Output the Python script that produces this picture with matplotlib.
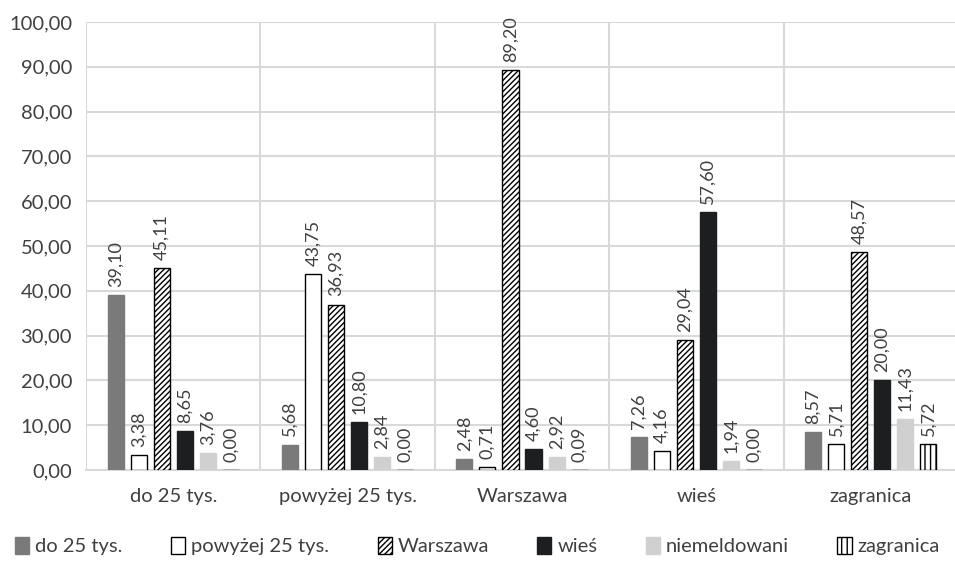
import matplotlib.pyplot as plt
import numpy as np

plt.rcParams['font.family'] = ['Lato', 'DejaVu Sans']

categories = ['do 25 tys.', 'powyżej 25 tys.', 'Warszawa', 'wieś', 'zagranica']
series_names = ['do 25 tys.', 'powyżej 25 tys.', 'Warszawa', 'wieś', 'niemeldowani', 'zagranica']

do25 = [39.10, 5.68, 2.48, 7.26, 8.57]
powyzej25 = [3.38, 43.75, 0.71, 4.16, 5.71]
warszawa = [45.11, 36.93, 89.20, 29.04, 48.57]
wies = [8.65, 10.80, 4.60, 57.60, 20.00]
niemeldowani = [3.76, 2.84, 2.92, 1.94, 11.43]
zagranica = [0.00, 0.00, 0.09, 0.00, 5.72]

series = [do25, powyzej25, warszawa, wies, niemeldowani, zagranica]
colors = ['#7a7a7a', 'white', 'white', '#1c1e20', '#d0d0d0', 'white']
hatches = [None, None, '//////', None, None, '|||']
edges = ['#7a7a7a', 'black', 'black', '#1c1e20', '#d0d0d0', 'black']

fig = plt.figure(figsize=(9.55, 5.65), dpi=100)
ax = fig.add_axes([86/955, 1 - 470/565, 872/955, 448/565])

x = np.arange(len(categories))
pitch = 0.132
width = 0.092
plt.rcParams['hatch.linewidth'] = 1.0
for i, vals in enumerate(series):
    pos = x + (i - 2.5) * pitch
    bars = ax.bar(pos, vals, width, color=colors[i], edgecolor=edges[i],
                  hatch=hatches[i], linewidth=1.0, label=series_names[i], zorder=3)
    for p, v in zip(pos, vals):
        ax.text(p, v + 1.8, f'{v:.2f}'.replace('.', ','), rotation=90,
                ha='center', va='bottom', fontsize=13, color='#404040')

ax.set_xlim(-0.5, 4.5)
ax.set_ylim(0, 100)
ax.set_yticks(np.arange(0, 101, 10))
ax.set_yticklabels([f'{t:.2f}'.replace('.', ',') for t in np.arange(0, 101, 10)])
ax.set_xticks(x)
ax.set_xticklabels(categories)
ax.tick_params(axis='both', length=0, labelsize=14.5, colors='#404040')
ax.tick_params(axis='x', pad=13)
ax.tick_params(axis='y', pad=10)
ax.grid(axis='y', color='#d9d9d9', linewidth=1.5, zorder=0)
for b in np.arange(-0.5, 4.6, 1):
    ax.axvline(b, color='#d9d9d9', linewidth=1.5, zorder=0)
for s in ax.spines.values():
    s.set_visible(False)
ax.spines['bottom'].set_visible(True)
ax.spines['bottom'].set_color('#d9d9d9')
ax.spines['bottom'].set_linewidth(1.5)

fig.legend(loc='lower center', bbox_to_anchor=(0.5, -0.015), ncol=6, frameon=False,
           fontsize=14.5, handlelength=0.7, handleheight=0.9, handletextpad=0.3,
           columnspacing=2.4, labelcolor='#404040')

fig.savefig('out.png', dpi=100)
